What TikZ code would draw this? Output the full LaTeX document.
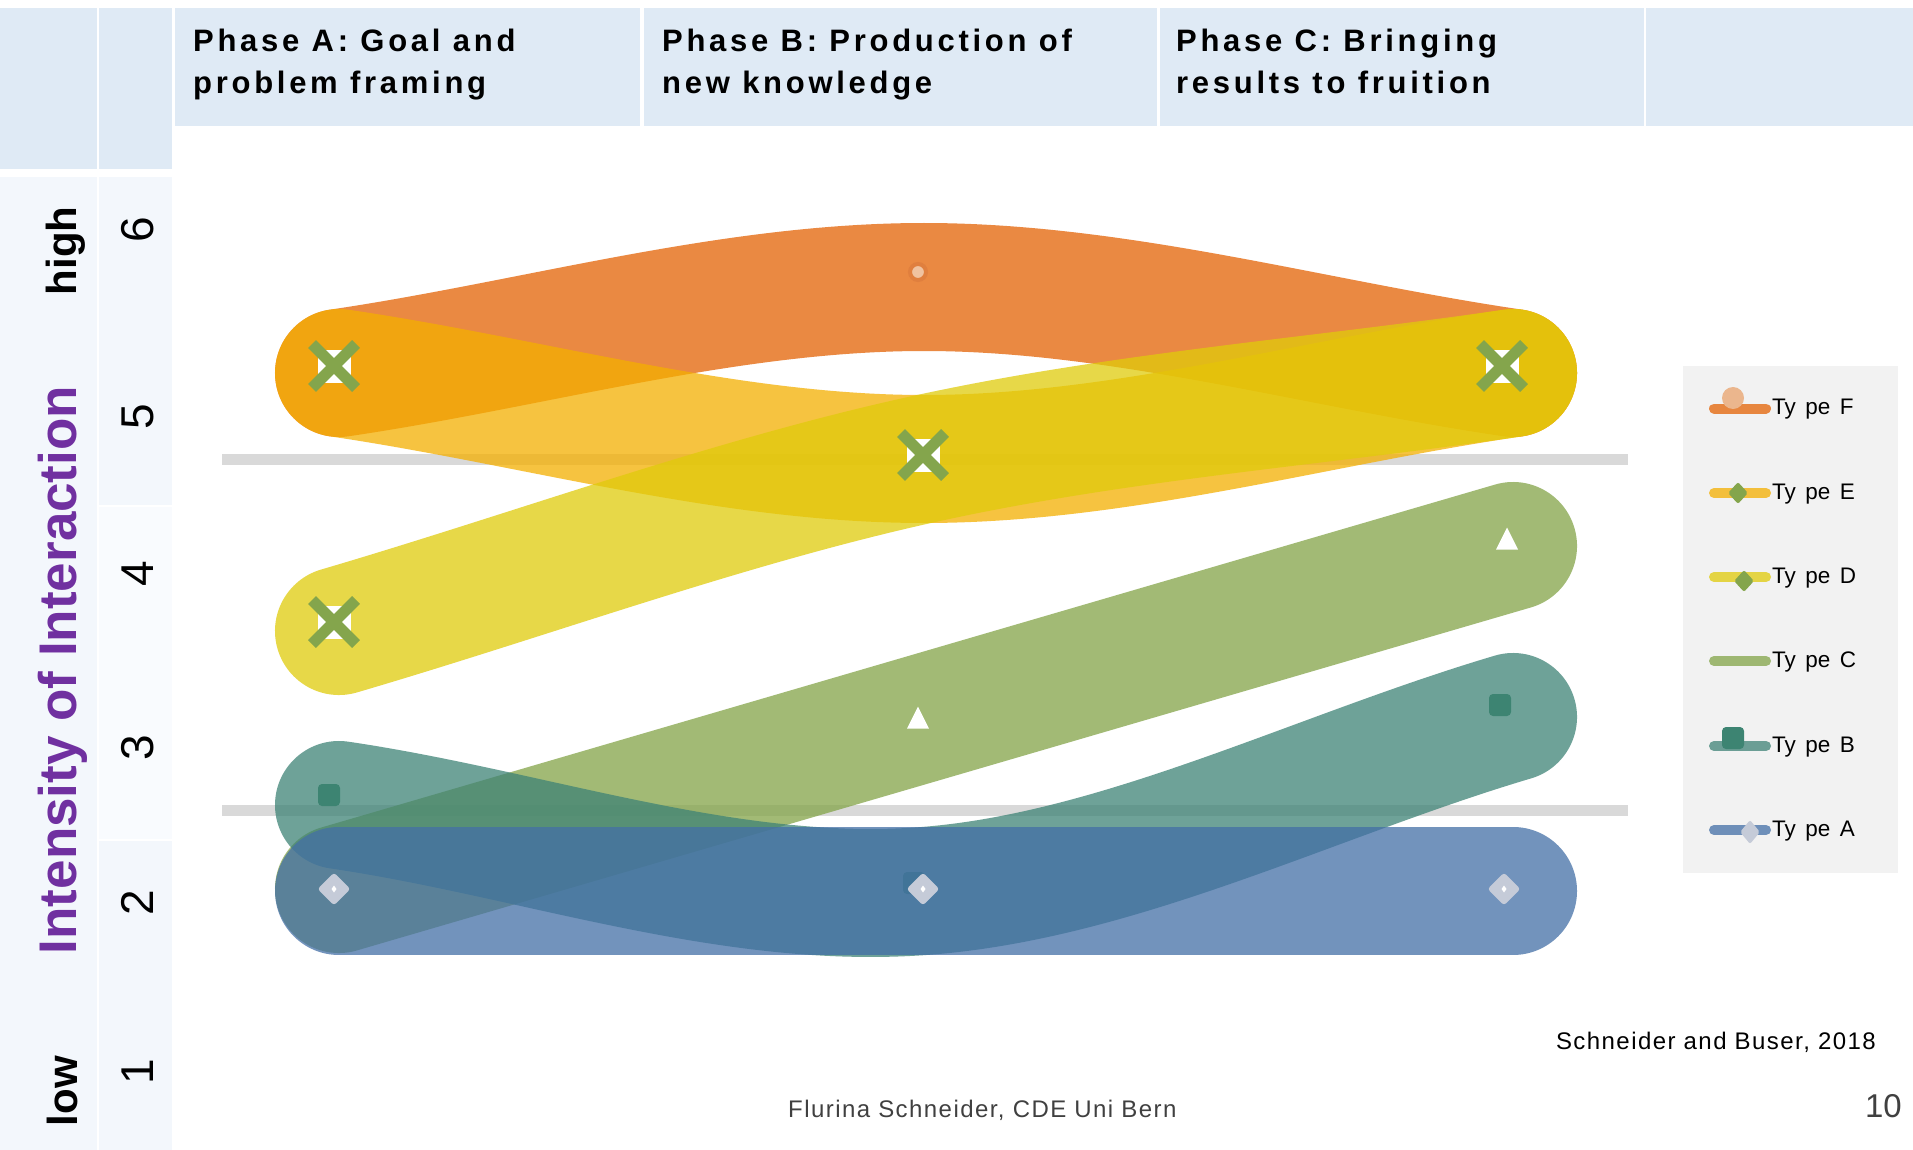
\documentclass[tikz,border=0pt]{standalone}
\usepackage{fontspec}
\setmainfont{Liberation Sans}
\newfontfamily\headfamily[LetterSpace=12]{Liberation Sans}
\newfontfamily\footfamily[LetterSpace=6]{Liberation Sans}
\usepackage{tikz}
\usetikzlibrary{shapes.geometric, shapes.misc}

\definecolor{headblue}{HTML}{DFEAF5}
\definecolor{paleblue}{HTML}{F3F7FC}
\definecolor{paleblue2}{HTML}{F9FBFE}
\definecolor{gridgray}{HTML}{D9D9D9}
\definecolor{legendgray}{HTML}{F2F2F2}
\definecolor{purplelab}{HTML}{7030A0}
\definecolor{footgray}{HTML}{404040}
\definecolor{typef}{HTML}{E46204}
\definecolor{typee}{HTML}{F4AF00}
\definecolor{typed}{HTML}{E0CB0B}
\definecolor{typec}{HTML}{83A448}
\definecolor{typeb}{HTML}{3E8376}
\definecolor{typea}{HTML}{436FA6}
\definecolor{markgreen}{HTML}{84A54C}
\definecolor{markteal}{HTML}{3D8472}
\definecolor{markgrey}{HTML}{C5CBD8}
\definecolor{markpeach}{HTML}{F0C3A0}
\definecolor{markring}{HTML}{E07F3E}
\definecolor{legpeach}{HTML}{EBB68D}

\tikzstyle{phase_text} = [anchor=north west, align=left, inner sep=0pt, font=\headfamily\bfseries\fontsize{31}{42}\selectfont]
\tikzstyle{axis_word} = [rotate=90, anchor=base, inner sep=0pt, font=\bfseries\fontsize{42}{46}\selectfont]
\tikzstyle{axis_title} = [rotate=90, anchor=base, inner sep=0pt, text=purplelab, font=\bfseries\fontsize{53}{58}\selectfont]
\tikzstyle{axis_num} = [rotate=90, anchor=base, inner sep=0pt, font=\fontsize{46}{50}\selectfont]
\tikzstyle{legend_text} = [anchor=base west, inner sep=0pt, font=\fontsize{22.5}{27}\selectfont]
\tikzstyle{foot_text} = [inner sep=0pt, font=\footfamily\fontsize{24}{28}\selectfont]
\tikzstyle{grid_line} = [draw=gridgray, line width=11pt]
\tikzstyle{band} = [line width=128pt, line cap=round, opacity=0.75]
\tikzstyle{band_f} = [band, draw=typef]
\tikzstyle{band_e} = [band, draw=typee]
\tikzstyle{band_d} = [band, draw=typed]
\tikzstyle{band_c} = [band, draw=typec]
\tikzstyle{band_b} = [band, draw=typeb]
\tikzstyle{band_a} = [band, draw=typea]
\tikzstyle{leg_line} = [line width=10pt, line cap=round, opacity=0.75]
\tikzstyle{mark_circle} = [circle, minimum size=16pt, inner sep=0pt, fill=markpeach, draw=markring, line width=4pt]
\tikzstyle{mark_back} = [rectangle, minimum size=33pt, inner sep=0pt, fill=white]
\tikzstyle{mark_cross} = [cross out, minimum size=33pt, inner sep=0pt, draw=markgreen, line width=11pt]
\tikzstyle{mark_triangle} = [isosceles triangle, isosceles triangle stretches, shape border rotate=90, minimum width=22pt, minimum height=22pt, inner sep=0pt, fill=white, anchor=apex]
\tikzstyle{mark_square} = [rectangle, minimum size=22pt, inner sep=0pt, fill=markteal, rounded corners=4pt]
\tikzstyle{mark_diamond} = [diamond, minimum width=33pt, minimum height=33pt, inner sep=0pt, fill=markgrey, rounded corners=3pt,
    path picture={\fill[white, sharp corners] (path picture bounding box.center) +(0,-3.5) -- +(2.5,0) -- +(0,3.5) -- +(-2.5,0) -- cycle;}]
\tikzstyle{leg_circle} = [circle, minimum size=22pt, inner sep=0pt, fill=legpeach]
\tikzstyle{leg_green} = [diamond, minimum width=20pt, minimum height=22pt, inner sep=0pt, fill=markgreen, rounded corners=2pt]
\tikzstyle{leg_diamond} = [diamond, minimum width=20pt, minimum height=24pt, inner sep=0pt, fill=markgrey, rounded corners=2pt]

\begin{document}
\begin{tikzpicture}[x=1pt, y=-1pt]
        \useasboundingbox (0,0) rectangle (1913,1150);
        \fill[white] (0,0) rectangle (1913,1150);

        % header and scale cells
        \fill[headblue] (0,8) rectangle (97,169);
        \fill[headblue] (99,8) rectangle (172,169);
        \fill[headblue] (175,8) rectangle (640,126.5);
        \fill[headblue] (644,8) rectangle (1157,126.5);
        \fill[headblue] (1160,8) rectangle (1644,126.5);
        \fill[headblue] (1646,8) rectangle (1913,126.5);
        \fill[paleblue] (0,177) rectangle (97,1150);
        \fill[paleblue] (99,177) rectangle (172,505);
        \fill[paleblue2] (99,507) rectangle (172,839);
        \fill[paleblue] (99,841) rectangle (172,1150);

        \node(phase_a) [phase_text] at (193,28.5) {Phase A: Goal and\\problem framing};
        \node(phase_b) [phase_text] at (662,28.5) {Phase B: Production of\\new knowledge};
        \node(phase_c) [phase_text] at (1176,28.5) {Phase C: Bringing\\results to fruition};

        \node(high) [axis_word] at (76,251) {high};
        \node(low) [axis_word] at (77,1091) {low};
        \node(title) [axis_title] at (76,670) {Intensity of Interaction};
        \node(lvl6) [axis_num] at (153,230) {6};
        \node(lvl5) [axis_num] at (153,417) {5};
        \node(lvl4) [axis_num] at (153,574) {4};
        \node(lvl3) [axis_num] at (153,748) {3};
        \node(lvl2) [axis_num] at (153,903) {2};
        \node(lvl1) [axis_num] at (153,1072) {1};

        % reference lines
        \draw[grid_line] (222,459.5) -- (1628,459.5);
        \draw[grid_line] (222,810) -- (1628,810);

        \coordinate (f_a) at (339,373);
        \coordinate (f_b) at (924,287);
        \coordinate (f_c) at (1513,373);
        \coordinate (e_a) at (339,373);
        \coordinate (e_b) at (924,459);
        \coordinate (e_c) at (1513,373);
        \coordinate (d_a) at (339,631);
        \coordinate (d_b) at (924,459);
        \coordinate (d_c) at (1513,373);
        \coordinate (c_a) at (339,889);
        \coordinate (c_c) at (1513,546);
        \coordinate (b_a) at (339,805);
        \coordinate (b_b) at (924,891);
        \coordinate (b_c) at (1513,717);
        \coordinate (a_a) at (339,891);
        \coordinate (a_c) at (1513,891);

        \draw[band_f] (f_a) .. controls +(195,-28.7) and +(-196,0) .. (f_b) .. controls +(196,0) and +(-196,-28.7) .. (f_c);
        \node(f_mark_b) [mark_circle] at (918,272) {};

        \draw[band_e] (e_a) .. controls +(195,28.7) and +(-196,0) .. (e_b) .. controls +(196,0) and +(-196,28.7) .. (e_c);
        \node(e_back_a) [mark_back] at (334,366) {};
        \node(e_mark_a) [mark_cross] at (e_back_a) {};

        \draw[band_d] (d_a) .. controls +(195,-57.3) and +(-196,43) .. (d_b) .. controls +(196,-43) and +(-196,28.7) .. (d_c);
        \node(d_back_a) [mark_back] at (334,622) {};
        \node(d_mark_a) [mark_cross] at (d_back_a) {};
        \node(d_back_b) [mark_back] at (923,455) {};
        \node(d_mark_b) [mark_cross] at (d_back_b) {};
        \node(d_back_c) [mark_back] at (1502,366) {};
        \node(d_mark_c) [mark_cross] at (d_back_c) {};

        \draw[band_c] (c_a) -- (c_c);
        \node(c_mark_b) [mark_triangle] at (918,706) {};
        \node(c_mark_c) [mark_triangle] at (1507,527) {};

        \draw[band_b] (b_a) .. controls +(195,28.7) and +(-196,14.7) .. (b_b) .. controls +(196,-14.7) and +(-196,58) .. (b_c);
        \node(b_mark_a) [mark_square] at (329,795) {};
        \node(b_mark_b) [mark_square] at (914,883) {};
        \node(b_mark_c) [mark_square] at (1500,705) {};

        \draw[band_a] (a_a) -- (a_c);
        \node(a_mark_a) [mark_diamond] at (334,889) {};
        \node(a_mark_b) [mark_diamond] at (923,889) {};
        \node(a_mark_c) [mark_diamond] at (1504,889) {};

        % legend
        \fill[legendgray] (1683,366) rectangle (1898,873);
        \draw[leg_line, draw=typef] (1714,408.5) -- (1766,408.5);
        \node(leg_f_mark) [leg_circle] at (1733,398) {};
        \node(leg_f) [legend_text] at (1772,414.5) {Ty\hspace{0.42em}pe\hspace{0.42em}F};
        \draw[leg_line, draw=typee] (1714,493) -- (1766,493);
        \node(leg_e_mark) [leg_green] at (1738,493) {};
        \node(leg_e) [legend_text] at (1772,499) {Ty\hspace{0.42em}pe\hspace{0.42em}E};
        \draw[leg_line, draw=typed] (1714,577) -- (1766,577);
        \node(leg_d_mark) [leg_green] at (1744,581) {};
        \node(leg_d) [legend_text] at (1772,583) {Ty\hspace{0.42em}pe\hspace{0.42em}D};
        \draw[leg_line, draw=typec] (1714,661) -- (1766,661);
        \node(leg_c) [legend_text] at (1772,667) {Ty\hspace{0.42em}pe\hspace{0.42em}C};
        \draw[leg_line, draw=typeb] (1714,746) -- (1766,746);
        \node(leg_b_mark) [mark_square] at (1733,738) {};
        \node(leg_b) [legend_text] at (1772,752) {Ty\hspace{0.42em}pe\hspace{0.42em}B};
        \draw[leg_line, draw=typea] (1714,830) -- (1766,830);
        \node(leg_a_mark) [leg_diamond] at (1750,832) {};
        \node(leg_a) [legend_text] at (1772,836) {Ty\hspace{0.42em}pe\hspace{0.42em}A};

        \node(credit) [foot_text, anchor=base east] at (1876,1049.5) {Schneider and Buser, 2018};
        \node(author) [foot_text, anchor=base west, text=footgray] at (788,1117) {Flurina Schneider, CDE Uni Bern};
        \node(page) [anchor=base east, inner sep=0pt, text=footgray, font=\fontsize{33}{36}\selectfont] at (1902,1117) {10};
    \end{tikzpicture}
\end{document}
